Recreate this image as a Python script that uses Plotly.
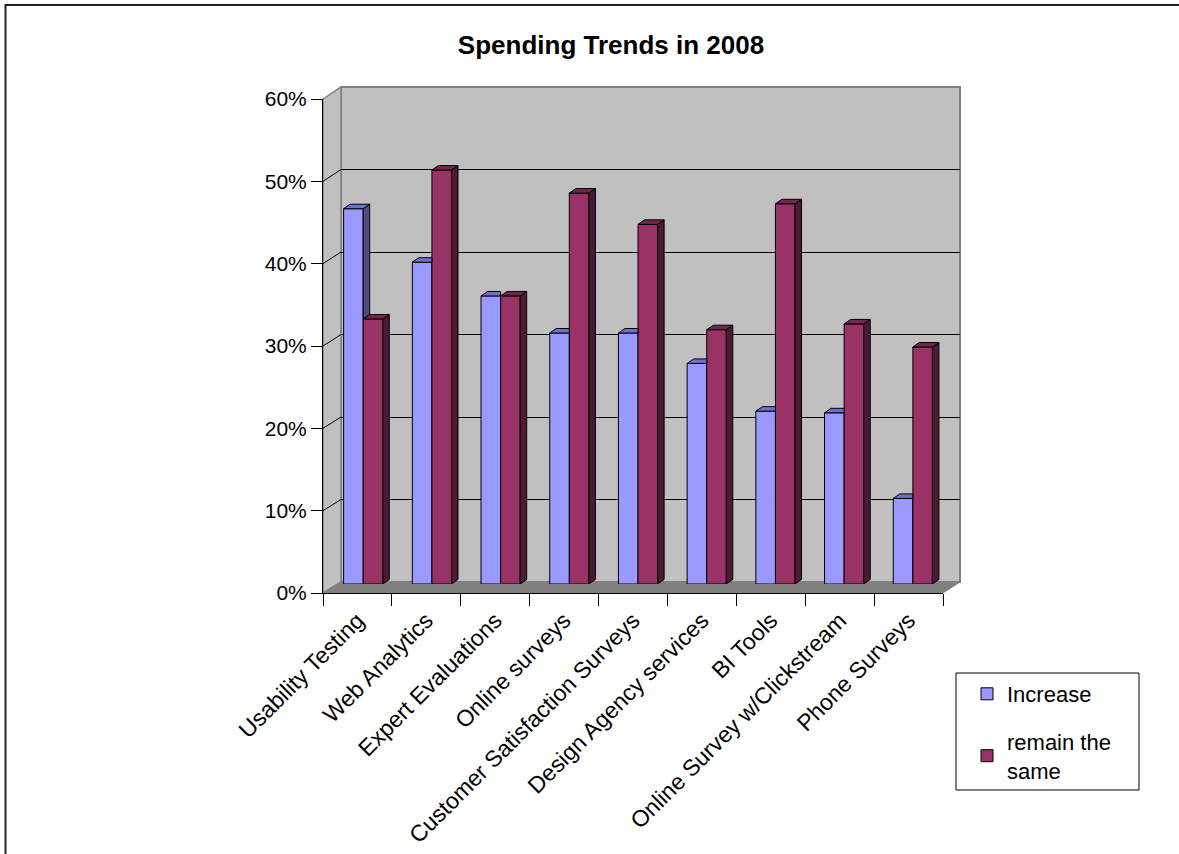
import plotly.graph_objects as go

# ---------------- data ----------------
categories = [
    "Usability Testing",
    "Web Analytics",
    "Expert Evaluations",
    "Online surveys",
    "Customer Satisfaction Surveys",
    "Design Agency services",
    "BI Tools",
    "Online Survey w/Clickstream",
    "Phone Surveys",
]
increase = [45.6, 39.1, 35.0, 30.5, 30.5, 26.8, 21.0, 20.8, 10.4]
remain = [32.2, 50.3, 35.0, 47.5, 43.7, 30.9, 46.2, 31.6, 28.8]
y_tickvals = [0, 10, 20, 30, 40, 50, 60]
y_ticktext = ["0%", "10%", "20%", "30%", "40%", "50%", "60%"]
series_names = ["Increase", "remain the<br>same"]

# ---------------- geometry helpers (pixels -> paper) ----------------
W, H = 1179, 854
def px(x):
    return x / W
def py(y):
    return 1 - y / H

FONT = "Liberation Sans, Arial, sans-serif"

# front frame, back wall, bar plane (pixel positions)
FX0, FX1, FY0, FY1 = 323, 943, 593, 99
BX0, BX1, BY0, BY1 = 341, 960, 582, 87
RX0, RX1, RY0 = 328.85, 947.2, 584
RSCALE = 8.23  # px per percent
RY1 = RY0 - RSCALE * 60

BAR_W = 0.285
DX = 6.5 / ((RX1 - RX0) / 9)   # depth offset in category units
DY = 4.5 / RSCALE              # depth offset in percent units

INC_FRONT, INC_TOP, INC_SIDE = "#9999FF", "#7070CC", "#4D4D80"
REM_FRONT, REM_TOP, REM_SIDE = "#993366", "#73264D", "#4D1A33"

fig = go.Figure()

# invisible anchor traces so the wall / front-axis subplots are drawn
for xa, ya, xr, yr in [("x", "y", 0.5, 30), ("x2", "y2", 4.5, 30), ("x3", "y2", 4.5, 30)]:
    fig.add_trace(go.Scatter(x=[xr], y=[yr], xaxis=xa, yaxis=ya, mode="markers",
                             marker=dict(opacity=0), showlegend=False, hoverinfo="skip"))

# front faces
fig.add_trace(go.Bar(
    x=list(range(len(categories))), y=increase, name=series_names[0],
    width=BAR_W, offset=-BAR_W, xaxis="x4", yaxis="y4", legendgroup="a",
    marker=dict(color=INC_FRONT, line=dict(color="black", width=1)),
))
fig.add_trace(go.Bar(
    x=list(range(len(categories))), y=remain, name=series_names[1],
    width=BAR_W, offset=0, xaxis="x4", yaxis="y4", legendgroup="b",
    marker=dict(color=REM_FRONT, line=dict(color="black", width=1)),
))

# 3D faces
inc_side_x, inc_side_y, inc_top_x, inc_top_y = [], [], [], []
rem_side_x, rem_side_y, rem_top_x, rem_top_y = [], [], [], []
for i, (vi, vr) in enumerate(zip(increase, remain)):
    x0, xm, x1 = i - BAR_W, i, i + BAR_W
    if vi > vr:
        inc_side_x += [xm, xm + DX, xm + DX, xm, xm, None]
        inc_side_y += [vr, vr + DY, vi + DY, vi, vr, None]
        inc_top_x += [x0, x0 + DX, xm + DX, xm, x0, None]
        inc_top_y += [vi, vi + DY, vi + DY, vi, vi, None]
    else:
        inc_top_x += [x0, x0 + DX, xm, xm, x0, None]
        inc_top_y += [vi, vi + DY, vi + DY, vi, vi, None]
    rem_side_x += [x1, x1 + DX, x1 + DX, x1, x1, None]
    rem_side_y += [0, DY, vr + DY, vr, 0, None]
    rem_top_x += [xm, xm + DX, x1 + DX, x1, xm, None]
    rem_top_y += [vr, vr + DY, vr + DY, vr, vr, None]

for xs, ys, col in [
    (inc_side_x, inc_side_y, INC_SIDE),
    (inc_top_x, inc_top_y, INC_TOP),
    (rem_side_x, rem_side_y, REM_SIDE),
    (rem_top_x, rem_top_y, REM_TOP),
]:
    fig.add_trace(go.Scatter(
        x=xs, y=ys, xaxis="x4", yaxis="y4", mode="lines", fill="toself",
        fillcolor=col, line=dict(color="black", width=1),
        showlegend=False, hoverinfo="skip",
    ))

# ---------------- decorative walls ----------------
shapes = []
# chart border
shapes.append(dict(type="rect", xref="paper", yref="paper",
                   x0=px(5.5), x1=px(1195), y0=py(5), y1=py(880),
                   line=dict(color="#222222", width=2), fillcolor="rgba(0,0,0,0)", layer="below"))
# back wall
shapes.append(dict(type="rect", xref="paper", yref="paper",
                   x0=px(BX0), x1=px(BX1), y0=py(BY0), y1=py(BY1),
                   fillcolor="#C0C0C0", line=dict(color="#808080", width=2), layer="below"))
# left wall
shapes.append(dict(type="path", xref="paper", yref="paper",
                   path=f"M {px(FX0)} {py(FY1)} L {px(BX0)} {py(BY1)} L {px(BX0)} {py(BY0)} L {px(FX0)} {py(FY0)} Z",
                   fillcolor="#C0C0C0", line=dict(color="#808080", width=1.5), layer="below"))
# floor
shapes.append(dict(type="path", xref="paper", yref="paper",
                   path=f"M {px(FX0)} {py(FY0)} L {px(BX0)} {py(BY0)} L {px(BX1)} {py(BY0)} L {px(FX1)} {py(FY0)} Z",
                   fillcolor="#808080", line=dict(color="#808080", width=1), layer="below"))
# diagonal gridlines on left wall
for v in y_tickvals[1:-1]:
    yf = FY0 - (FY0 - FY1) * v / 60
    yb = BY0 - (BY0 - BY1) * v / 60
    shapes.append(dict(type="line", xref="paper", yref="paper",
                       x0=px(FX0), y0=py(yf), x1=px(BX0), y1=py(yb),
                       line=dict(color="black", width=1), layer="below"))
# legend frame
shapes.append(dict(type="rect", xref="paper", yref="paper",
                   x0=px(956), x1=px(1139), y0=py(790), y1=py(673),
                   line=dict(color="black", width=1), fillcolor="white", layer="below"))

fig.update_layout(
    width=W, height=H, autosize=False,
    margin=dict(l=0, r=0, t=0, b=0, autoexpand=False),
    paper_bgcolor="white", plot_bgcolor="rgba(0,0,0,0)",
    barmode="overlay",
    font=dict(family=FONT, size=21, color="black"),
    shapes=shapes,
    title=dict(text="<b>Spending Trends in 2008</b>", x=px(611), y=py(45),
               xanchor="center", yanchor="middle", automargin=False,
               font=dict(family=FONT, size=26, color="black")),
    # back wall axes (gridlines)
    xaxis=dict(domain=[px(BX0), px(BX1)], range=[0, 1], anchor="y", automargin=False,
               showgrid=False, zeroline=False, showline=False,
               showticklabels=False, ticks=""),
    yaxis=dict(domain=[py(BY0), py(BY1)], range=[0, 60], anchor="x", automargin=False,
               tickvals=y_tickvals[1:-1], showgrid=True, gridcolor="black", gridwidth=1,
               zeroline=False, showline=False, showticklabels=False, ticks=""),
    # front axes
    xaxis2=dict(domain=[px(FX0), px(FX1)], range=[0, 9], anchor="y2", automargin=False,
                tickvals=list(range(10)), ticks="outside", ticklen=12, tickcolor="black",
                showticklabels=False, showline=True, linecolor="black", linewidth=1,
                showgrid=False, zeroline=False),
    yaxis2=dict(domain=[py(FY0), py(FY1)], range=[0, 60], anchor="x2", automargin=False,
                tickvals=y_tickvals, ticktext=y_ticktext, ticks="outside", ticklen=11,
                tickcolor="black", showline=True, linecolor="black", linewidth=1,
                showgrid=False, zeroline=False, tickfont=dict(size=21)),
    xaxis3=dict(overlaying="x2", anchor="y2", range=[0, 9], automargin=False,
                tickvals=[i + 0.5 for i in range(len(categories))], ticktext=categories,
                tickangle=-45, ticks="outside", ticklen=4, tickcolor="rgba(0,0,0,0)",
                showline=False, showgrid=False, zeroline=False, tickfont=dict(size=23)),
    # bar plane
    xaxis4=dict(domain=[px(RX0), px(RX1)], range=[-0.5, 8.5], anchor="y4", visible=False),
    yaxis4=dict(domain=[py(RY0), py(RY1)], range=[0, 60], anchor="x4", visible=False),
    showlegend=True,
    legend=dict(x=px(967), y=py(673), xanchor="left", yanchor="top",
                bgcolor="rgba(0,0,0,0)", borderwidth=0,
                font=dict(family=FONT, size=22), tracegroupgap=16),
)

fig.write_html("out.html")
